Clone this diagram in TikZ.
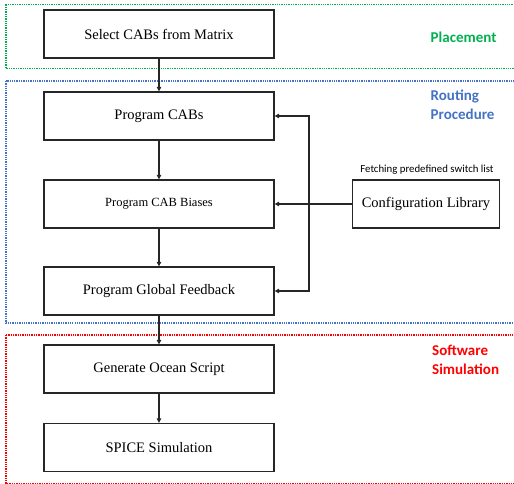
\documentclass[tikz,border=0pt]{standalone}
\usepackage{fontspec}
\setmainfont{Liberation Serif}
\newfontfamily\calib{Carlito}
\usetikzlibrary{arrows.meta}
\definecolor{plgreen}{HTML}{00B050}
\definecolor{rtblue}{HTML}{4472C4}
\definecolor{swred}{HTML}{FF0000}
\begin{document}
\begin{tikzpicture}[x=1pt,y=-1pt,
  stepbox/.style={draw=black!85,line width=1.3pt,minimum width=230pt,minimum height=48pt,inner sep=0pt,font=\fontsize{14.5}{17}\selectfont},
  conn/.style={line width=1.3pt,draw=black!85,-{Triangle[length=4.5pt,width=4.5pt]}},
  region/.style={line width=1.3pt,dash pattern=on 1.3pt off 1pt},
  tag/.style={font=\calib\bfseries\fontsize{15}{19}\selectfont,align=left,anchor=west,inner sep=0pt}]
\useasboundingbox (0,0) rectangle (514,484);
\draw[region,draw=plgreen] (6,4.5) rectangle (530,68.5);
\draw[region,draw=rtblue] (6,81) rectangle (530,323);
\draw[region,draw=swred] (6,335) rectangle (530,483.3);
\node[stepbox] (b1) at (159,34) {Select CABs from Matrix};
\node[stepbox] (b2) at (159,116) {Program CABs};
\node[stepbox,font=\fontsize{12.5}{14}\selectfont] (b3) at (159,204) {Program CAB Biases};
\node[stepbox] (b4) at (159,291) {Program Global Feedback};
\node[stepbox] (b5) at (159,369) {Generate Ocean Script};
\node[stepbox] (b6) at (159,447.5) {SPICE Simulation};
\node[stepbox,minimum width=147pt] (cfg) at (426,204) {Configuration Library};
\node[font=\calib\fontsize{10.8}{12}\selectfont,inner sep=0pt] (fetch) at (427,169.5) {Fetching predefined switch list};
\node[tag,text=plgreen] (pl) at (430.5,37) {Placement};
\node[tag,text=rtblue] (rt) at (430.5,105) {Routing\\Procedure};
\node[tag,text=swred] (sw) at (432,360) {Software\\Simulation};
\draw[conn] (b1) -- (b2);
\draw[conn] (b2) -- (b3);
\draw[conn] (b3) -- (b4);
\draw[conn] (b4) -- (b5);
\draw[conn] (b5) -- (b6);
\draw[conn] (cfg) -- (b3);
\coordinate (j) at (309,204);
\draw[conn] (j) |- (b2.east);
\draw[conn] (j) |- (b4.east);
\end{tikzpicture}
\end{document}
